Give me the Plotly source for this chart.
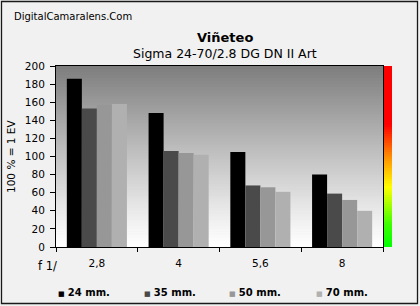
import plotly.graph_objects as go

categories = ["2,8", "4", "5,6", "8"]
series_names = ["24 mm.", "35 mm.", "50 mm.", "70 mm."]
series_colors = ["#000000", "#4a4a4a", "#979797", "#b0b0b0"]
v24 = [186, 148, 105, 80]
v35 = [153, 106, 68, 59]
v50 = [157, 104, 66, 52]
v70 = [158, 102, 61, 40]
series_values = [v24, v35, v50, v70]
y_ticks = list(range(0, 201, 20))

W, H = 420, 306
ML, MR, MT, MB = 56, 37, 66, 59
PW, PH = W - ML - MR, H - MT - MB


def px_x(p):
    return (p - ML) / PW


def px_y(p):
    return (H - MB - p) / PH


FONT = "DejaVu Sans"
fig = go.Figure()
for name, vals, col in zip(series_names, series_values, series_colors):
    fig.add_trace(go.Bar(x=categories, y=vals, name=name, marker=dict(color=col, line=dict(width=0)),
                         showlegend=False))

shapes = []
# plot background gradient (white bottom -> gray top)
N = 60
for i in range(N):
    t = (i + 0.5) / N
    g = int(round(255 - (255 - 125) * (t ** 1.1)))
    c = f"rgb({g},{g},{g})"
    shapes.append(dict(type="rect", xref="x domain", yref="y domain", x0=0, x1=1,
                       y0=i / N, y1=min(1, (i + 1.6) / N), fillcolor=c, line=dict(width=0), layer="below"))


# right color scale bar
def lerp(a, b, t):
    return tuple(int(round(a[k] + (b[k] - a[k]) * t)) for k in range(3))


stops = [(0, (0, 255, 0)), (25, (60, 255, 0)), (66, (255, 255, 0)), (100, (255, 140, 0)),
         (135, (255, 0, 0)), (200, (255, 0, 0))]
M = 80
for i in range(M):
    v = (i + 0.5) / M * 200
    for j in range(len(stops) - 1):
        if stops[j][0] <= v <= stops[j + 1][0]:
            t = (v - stops[j][0]) / (stops[j + 1][0] - stops[j][0])
            col = lerp(stops[j][1], stops[j + 1][1], t)
            break
    shapes.append(dict(type="rect", xref="x domain", yref="y domain", x0=px_x(384), x1=px_x(392),
                       y0=i / M, y1=min(1, (i + 1.8) / M), fillcolor=f"rgb{col}",
                       line=dict(width=0), opacity=1))

# outer frame
shapes.append(dict(type="rect", xref="paper", yref="paper", x0=px_x(1.5), x1=px_x(417.5),
                   y0=px_y(1.5), y1=px_y(303.5), line=dict(color="#1a1a1a", width=1.3),
                   fillcolor="rgba(0,0,0,0)"))

annotations = [
    dict(text="DigitalCamaralens.Com", xref="paper", yref="paper", x=px_x(12), y=px_y(16),
         xanchor="left", yanchor="middle", showarrow=False, font=dict(family=FONT, size=10, color="#000")),
    dict(text="<b>Viñeteo</b>", xref="paper", yref="paper", x=px_x(225), y=px_y(38),
         xanchor="center", yanchor="middle", showarrow=False, font=dict(family=FONT, size=13, color="#000")),
    dict(text="Sigma 24-70/2.8 DG DN II Art", xref="paper", yref="paper", x=px_x(225), y=px_y(54),
         xanchor="center", yanchor="middle", showarrow=False, font=dict(family=FONT, size=12.5, color="#000")),
    dict(text="100 % = 1 EV", xref="paper", yref="paper", x=px_x(11), y=px_y(157), textangle=-90,
         xanchor="center", yanchor="middle", showarrow=False, font=dict(family=FONT, size=10.5, color="#000")),
    dict(text="f 1/", xref="paper", yref="paper", x=px_x(36), y=px_y(266),
         xanchor="left", yanchor="middle", showarrow=False, font=dict(family=FONT, size=11.5, color="#000")),
]
leg_x = [57, 143, 228, 315]
for name, col, lx in zip(series_names, series_colors, leg_x):
    annotations.append(dict(
        text=f"<span style='color:{col};font-size:7px'>■</span> <b>{name}</b>",
        xref="paper", yref="paper", x=px_x(lx - 1), y=px_y(292), xanchor="left", yanchor="middle",
        showarrow=False, font=dict(family=FONT, size=10, color="#000")))

fig.update_layout(
    width=W, height=H, margin=dict(l=ML, r=MR, t=MT, b=MB),
    paper_bgcolor="#f1f1f1", plot_bgcolor="#ffffff",
    barmode="group", bargap=0.265, bargroupgap=0,
    shapes=shapes, annotations=annotations, showlegend=False,
    font=dict(family=FONT, size=10, color="#000"),
)
fig.update_xaxes(type="category", showline=True, linecolor="#000", linewidth=1, mirror=True,
                 ticks="outside", ticklen=4, tickcolor="#000", tickson="boundaries",
                 tickfont=dict(family=FONT, size=10.5, color="#000"), ticklabelstandoff=6,
                 showgrid=False, zeroline=False)
fig.update_yaxes(range=[0, 200], tickvals=y_ticks, showline=True, linecolor="#000", linewidth=1,
                 mirror=True, ticks="outside", ticklen=5, tickcolor="#000",
                 tickfont=dict(family=FONT, size=10.5, color="#000"), ticklabelstandoff=3,
                 showgrid=False, zeroline=False)

fig.write_html("out.html")
